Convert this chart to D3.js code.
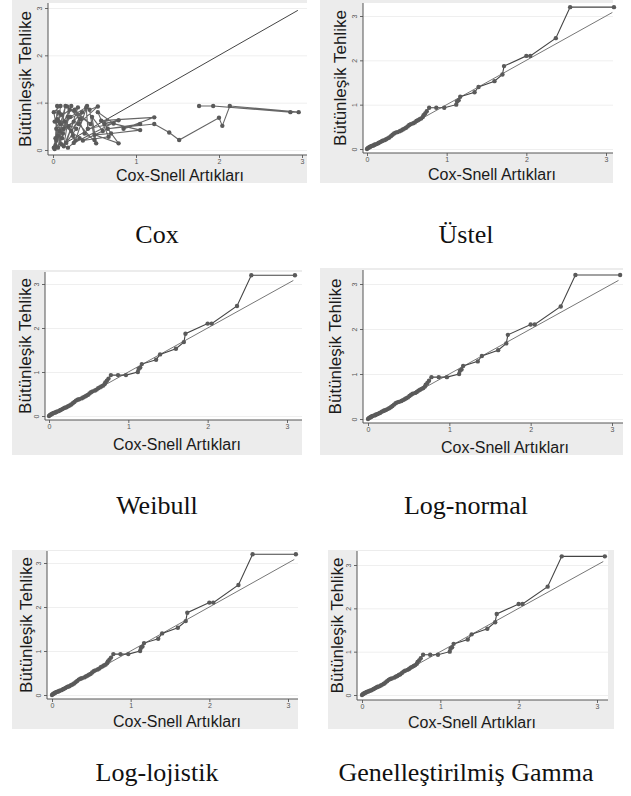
<!DOCTYPE html>
<html>
<head>
<meta charset="utf-8">
<script src="https://cdn.jsdelivr.net/npm/d3@7"></script>
<style>
body { margin: 0; background: #fff; }
svg { display: block; }
</style>
</head>
<body>
<script>
// captions under each panel
var captions = ["Cox", "Üstel", "Weibull", "Log-normal", "Log-lojistik", "Genelleştirilmiş Gamma"];
var xTicks = [0, 1, 2, 3];
var yTicks = [0, 1, 2, 3];
var xTitle = "Cox-Snell Artıkları";
var yTitle = "Bütünleşik Tehlike";

// Cox model: points in data order (not sorted, hence the zigzag)
var coxX = [0.02, 0.03, 0.05, 0.04, 0.10, 0.07, 0.02, 0.12, 0.06, 0.15, 0.09, 0.03, 0.18, 0.11, 0.22, 0.08,
            0.25, 0.13, 0.20, 0.05, 0.28, 0.16, 0.30, 0.10, 0.24, 0.19, 0.35, 0.14, 0.27, 0.41, 0.22, 0.33,
            0.17, 0.45, 0.26, 0.38, 0.50, 0.44, 0.54, 0.31, 0.52, 0.47, 0.60, 0.36, 0.67, 0.54, 0.73, 0.42,
            0.40, 0.21, 0.06, 0.01, 0.09, 0.04, 0.13, 0.01, 0.07, 0.32, 0.18, 0.25,
            0.79, 0.62, 0.79, 0.50, 0.70, 1.05, 0.58, 1.22, 0.85, 1.05, 0.66, 1.22,
            1.40, 1.52, 2.00, 2.04, 2.13, 2.96, 2.86, 1.93, 1.76];
var coxY = [0.02, 0.25, 0.93, 0.45, 0.12, 0.80, 0.60, 0.35, 0.05, 0.93, 0.55, 0.10, 0.70, 0.25, 0.93, 0.40,
            0.60, 0.08, 0.85, 0.65, 0.45, 0.15, 0.90, 0.75, 0.30, 0.50, 0.80, 0.60, 0.20, 0.93, 0.40, 0.65,
            0.92, 0.55, 0.85, 0.35, 0.21, 0.85, 0.92, 0.55, 0.14, 0.70, 0.40, 0.20, 0.28, 0.80, 0.56, 0.45,
            0.90, 0.70, 0.30, 0.80, 0.93, 0.20, 0.45, 0.05, 0.60, 0.25, 0.05, 0.15,
            0.63, 0.55, 0.14, 0.32, 0.35, 0.42, 0.62, 0.69, 0.45, 0.55, 0.45, 0.55,
            0.37, 0.21, 0.68, 0.51, 0.93, 0.80, 0.80, 0.93, 0.93];
var coxRefEnd = 2.95;

// parametric models (the five panels look the same)
var fitX = [0.00, 0.01, 0.02, 0.03, 0.04, 0.05, 0.06, 0.08, 0.09, 0.10, 0.12, 0.14, 0.15, 0.17, 0.19, 0.20,
            0.22, 0.24, 0.26, 0.28, 0.30, 0.32, 0.34, 0.36, 0.38, 0.41, 0.43, 0.45, 0.47, 0.49, 0.51, 0.53,
            0.55, 0.58, 0.60, 0.62, 0.64, 0.66, 0.68, 0.70, 0.71, 0.73, 0.75, 0.78, 0.87, 0.97, 1.12, 1.13,
            1.15, 1.17, 1.35, 1.40, 1.60, 1.70, 1.72, 2.00, 2.05, 2.37, 2.55, 3.10];
var fitY = [0.00, 0.02, 0.03, 0.04, 0.05, 0.06, 0.07, 0.08, 0.09, 0.10, 0.11, 0.13, 0.14, 0.16, 0.18, 0.19,
            0.20, 0.22, 0.24, 0.26, 0.29, 0.32, 0.35, 0.37, 0.38, 0.40, 0.42, 0.44, 0.46, 0.48, 0.51, 0.54,
            0.56, 0.58, 0.60, 0.63, 0.65, 0.67, 0.69, 0.72, 0.76, 0.80, 0.85, 0.93, 0.93, 0.93, 1.00, 1.07,
            1.10, 1.18, 1.28, 1.40, 1.53, 1.68, 1.87, 2.10, 2.10, 2.50, 3.20, 3.20];
var fitRefEnd = 3.08;

// panel layout: grey box, plot box, pixel positions of 0 and 3 on each axis
var layout = [
  {bg: [12, 0, 295, 183],   l: 48,  t: 3,   r: 307, b: 155, xr: [53, 302],  yr: [150, 8],   yl: 25,  xl: [180, 181], cap: [157, 243]},
  {bg: [320, 0, 293, 183],  l: 363, t: 3,   r: 613, b: 153, xr: [367, 606], yr: [149, 16],  yl: 340, xl: [492, 180], cap: [466, 243]},
  {bg: [12, 270, 290, 185], l: 45,  t: 272, r: 302, b: 420, xr: [49, 287],  yr: [416, 284], yl: 25,  xl: [177, 450], cap: [157, 514]},
  {bg: [320, 268, 303, 187],l: 363, t: 270, r: 623, b: 423, xr: [368, 612], yr: [419, 284], yl: 335, xl: [505, 453], cap: [466, 514]},
  {bg: [12, 550, 286, 179], l: 47,  t: 551, r: 298, b: 699, xr: [52, 288],  yr: [695, 563], yl: 26,  xl: [177, 727], cap: [157, 781]},
  {bg: [328, 550, 286, 179],l: 357, t: 551, r: 608, b: 700, xr: [362, 597], yr: [695, 565], yl: 337, xl: [472, 728], cap: [466, 781]}
];

var svg = d3.select("body").append("svg")
  .attr("width", 631)
  .attr("height", 796);

layout.forEach(function(p, i) {
  var isCox = (i === 0);
  var xs = isCox ? coxX : fitX;
  var ys = isCox ? coxY : fitY;
  var refEnd = isCox ? coxRefEnd : fitRefEnd;
  var pts = xs.map(function(d, k) { return [d, ys[k]]; });

  var x = d3.scaleLinear().domain([0, 3]).range(p.xr);
  var y = d3.scaleLinear().domain([0, 3]).range(p.yr);

  var g = svg.append("g");

  g.append("rect")
    .attr("x", p.bg[0]).attr("y", p.bg[1])
    .attr("width", p.bg[2]).attr("height", p.bg[3])
    .attr("fill", "#ececec");

  g.append("rect")
    .attr("x", p.l).attr("y", p.t)
    .attr("width", p.r - p.l).attr("height", p.b - p.t)
    .attr("fill", "#fff");

  // faint grid
  g.selectAll(".grid").data(yTicks).enter().append("line")
    .attr("x1", p.l).attr("x2", p.r)
    .attr("y1", function(d) { return y(d) + 0.5; })
    .attr("y2", function(d) { return y(d) + 0.5; })
    .attr("stroke", "#efefef").attr("stroke-width", 1);

  // axes
  var fmt = d3.format("d");
  var xAxis = g.append("g")
    .attr("transform", "translate(0," + p.b + ")")
    .call(d3.axisBottom(x).tickValues(xTicks).tickFormat(fmt).tickSize(3).tickPadding(1));
  var yAxis = g.append("g")
    .attr("transform", "translate(" + p.l + ",0)")
    .call(d3.axisLeft(y).tickValues(yTicks).tickFormat(fmt).tickSize(3).tickPadding(2));

  [xAxis, yAxis].forEach(function(a) {
    a.select(".domain").remove();
    a.selectAll("line").attr("stroke", "#666");
    a.selectAll("text")
      .attr("fill", "#555")
      .style("font-family", "Liberation Sans, Arial, sans-serif")
      .style("font-size", "7px");
  });
  yAxis.selectAll("text")
    .attr("transform", "rotate(-90)")
    .attr("x", 0).attr("y", -6)
    .attr("dy", "0")
    .style("text-anchor", "middle");

  g.append("line")
    .attr("x1", p.l).attr("x2", p.r)
    .attr("y1", p.b).attr("y2", p.b)
    .attr("stroke", "#555").attr("stroke-width", 1);
  g.append("line")
    .attr("x1", p.l).attr("x2", p.l)
    .attr("y1", p.t).attr("y2", p.b)
    .attr("stroke", "#555").attr("stroke-width", 1);

  // reference line H = r
  g.append("line")
    .attr("x1", x(0)).attr("y1", y(0))
    .attr("x2", x(refEnd)).attr("y2", y(refEnd))
    .attr("stroke", isCox ? "#444" : "#777")
    .attr("stroke-width", 1);

  var line = d3.line()
    .x(function(d) { return x(d[0]); })
    .y(function(d) { return y(d[1]); });

  g.append("path")
    .datum(pts)
    .attr("d", line)
    .attr("fill", "none")
    .attr("stroke", isCox ? "#666" : "#444")
    .attr("stroke-width", 1.1);

  g.selectAll(".pt").data(pts).enter().append("circle")
    .attr("cx", function(d) { return x(d[0]); })
    .attr("cy", function(d) { return y(d[1]); })
    .attr("r", 2.2)
    .attr("fill", "#5a5a5a");

  // axis titles
  g.append("text")
    .attr("x", p.xl[0]).attr("y", p.xl[1])
    .attr("text-anchor", "middle")
    .attr("fill", "#1a1a1a")
    .style("font-family", "Liberation Sans, Arial, sans-serif")
    .style("font-size", "16px")
    .text(xTitle);

  g.append("text")
    .attr("transform", "translate(" + p.yl + "," + ((p.t + p.b) / 2) + ") rotate(-90)")
    .attr("text-anchor", "middle")
    .attr("dy", "0.35em")
    .attr("fill", "#1a1a1a")
    .style("font-family", "Liberation Sans, Arial, sans-serif")
    .style("font-size", "17px")
    .text(yTitle);

  // caption
  svg.append("text")
    .attr("x", p.cap[0]).attr("y", p.cap[1])
    .attr("text-anchor", "middle")
    .attr("fill", "#111")
    .style("font-family", "Liberation Serif, Times New Roman, serif")
    .style("font-size", "26px")
    .text(captions[i]);
});
</script>
</body>
</html>
